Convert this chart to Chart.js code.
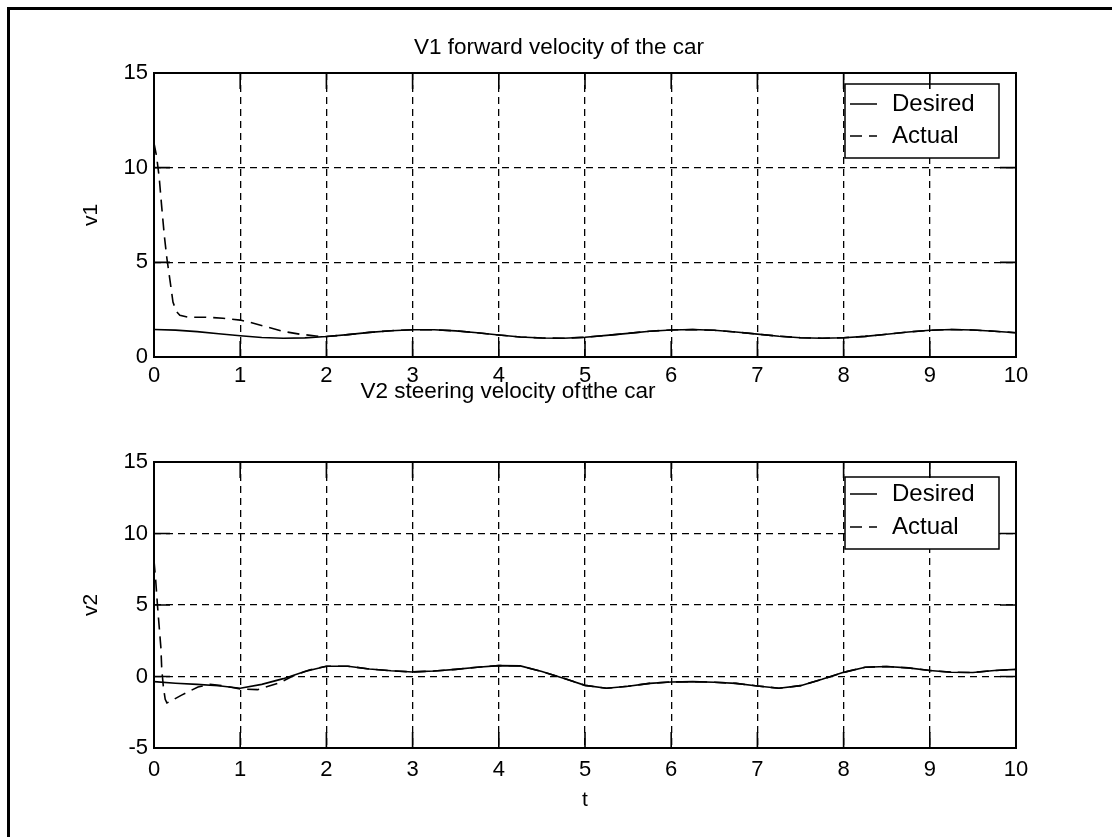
<!DOCTYPE html>
<html>
<head>
<meta charset="utf-8">
<script src="https://cdn.jsdelivr.net/npm/chart.js@4.4.0/dist/chart.umd.min.js"></script>
<style>
  html, body { margin: 0; padding: 0; background: #fff; }
  #page { position: relative; width: 1112px; height: 837px; overflow: hidden; background: #fff; }
  #frame { position: absolute; left: 7px; top: 7px; width: 1200px; height: 900px;
           border-top: 3px solid #000; border-left: 3px solid #000; }
  .box { position: absolute; left: 0; width: 1112px; }
  #boxTop { top: 0; height: 420px; }
  #boxBottom { top: 360px; height: 477px; }
</style>
</head>
<body>
<div id="page">
  <div id="frame"></div>
  <div class="box" id="boxTop"><canvas id="chartV1"></canvas></div>
  <div class="box" id="boxBottom"><canvas id="chartV2"></canvas></div>
</div>
<script>
// time grid for the desired trajectories
var tDesired = [0, 0.25, 0.5, 0.75, 1, 1.25, 1.5, 1.75, 2, 2.25, 2.5, 2.75, 3, 3.25, 3.5, 3.75,
  4, 4.25, 4.5, 4.75, 5, 5.25, 5.5, 5.75, 6, 6.25, 6.5, 6.75, 7, 7.25, 7.5, 7.75,
  8, 8.25, 8.5, 8.75, 9, 9.25, 9.5, 9.75, 10];

var v1Desired = [1.45, 1.42, 1.34, 1.23, 1.12, 1.03, 0.99, 1.01, 1.08, 1.18, 1.30, 1.39, 1.44, 1.44, 1.38, 1.28,
  1.16, 1.06, 1.00, 0.99, 1.04, 1.14, 1.25, 1.36, 1.43, 1.45, 1.41, 1.32, 1.21, 1.10, 1.02, 0.99,
  1.02, 1.09, 1.20, 1.32, 1.41, 1.45, 1.43, 1.36, 1.28];

var v2Desired = [-0.36, -0.47, -0.55, -0.65, -0.82, -0.55, -0.15, 0.35, 0.72, 0.72, 0.52, 0.40, 0.32, 0.38, 0.50, 0.65,
  0.76, 0.74, 0.35, -0.12, -0.62, -0.82, -0.68, -0.48, -0.38, -0.36, -0.40, -0.48, -0.66, -0.82, -0.64, -0.20,
  0.29, 0.65, 0.70, 0.60, 0.42, 0.30, 0.28, 0.42, 0.50];

// transient of the actual signals (after t = 2 they sit on the desired curve)
var tActual1Head = [0, 0.03, 0.06, 0.09, 0.12, 0.15, 0.19, 0.22, 0.26, 0.3, 0.4, 0.6, 0.8, 1.0, 1.1, 1.3, 1.5, 1.7, 1.9, 2.0];
var v1ActualHead = [11.3, 10.6, 9.5, 7.9, 6.4, 5.2, 3.9, 2.9, 2.4, 2.2, 2.1, 2.1, 2.05, 1.95, 1.85, 1.6, 1.35, 1.2, 1.1, 1.08];

var tActual2Head = [0, 0.02, 0.04, 0.06, 0.08, 0.09, 0.11, 0.13, 0.15, 0.2, 0.32, 0.51, 0.65, 0.8, 1.0, 1.2, 1.45, 1.6, 1.8, 2.0];
var v2ActualHead = [8.1, 6.7, 5.0, 3.5, 2.0, 0.5, -0.8, -1.6, -1.85, -1.7, -1.3, -0.73, -0.55, -0.65, -0.88, -0.92, -0.46, 0.0, 0.45, 0.72];

var xTicks = [0, 1, 2, 3, 4, 5, 6, 7, 8, 9, 10];
var legendLabels = ['Desired', 'Actual'];

function pts(ts, vs) {
  return ts.map(function(t, i) { return { x: t, y: vs[i] }; });
}

var TICK = 16;
var FONT = "'Liberation Sans', Arial, sans-serif";

// MATLAB-like axes box, inward ticks and boxed legend
var matlabAxes = {
  id: 'matlabAxes',
  afterDraw: function(chart, args, o) {
    var ctx = chart.ctx, a = chart.chartArea;
    var xs = chart.scales.x, ys = chart.scales.y;
    ctx.save();
    ctx.strokeStyle = '#000';
    ctx.setLineDash([]);

    // legend
    var lx = a.right - o.right - o.width, ly = a.top + o.top;
    ctx.fillStyle = '#fff';
    ctx.fillRect(lx, ly, o.width, o.height);
    ctx.lineWidth = 1.5;
    ctx.strokeRect(lx, ly, o.width, o.height);
    ctx.font = o.fontSize + 'px ' + FONT;
    ctx.textBaseline = 'middle';
    ctx.fillStyle = '#000';
    chart.data.datasets.forEach(function(ds, i) {
      var yy = ly + o.rows[i];
      ctx.lineWidth = 1.5;
      ctx.setLineDash(ds.borderDash || []);
      ctx.beginPath();
      ctx.moveTo(lx + 5, yy);
      ctx.lineTo(lx + 32, yy);
      ctx.stroke();
      ctx.setLineDash([]);
      ctx.fillText(ds.label, lx + 47, yy);
    });

    // box
    ctx.lineWidth = 2;
    ctx.strokeRect(a.left, a.top, a.right - a.left, a.bottom - a.top);

    // inward ticks
    ctx.lineWidth = 1.6;
    ctx.beginPath();
    xs.ticks.forEach(function(t) {
      var px = xs.getPixelForValue(t.value);
      ctx.moveTo(px, a.bottom); ctx.lineTo(px, a.bottom - TICK);
      ctx.moveTo(px, a.top); ctx.lineTo(px, a.top + TICK);
    });
    ys.ticks.forEach(function(t) {
      var py = ys.getPixelForValue(t.value);
      ctx.moveTo(a.left, py); ctx.lineTo(a.left + TICK, py);
      ctx.moveTo(a.right, py); ctx.lineTo(a.right - TICK, py);
    });
    ctx.stroke();
    ctx.restore();
  }
};

function makeChart(id, cfg) {
  return new Chart(document.getElementById(id), {
    type: 'line',
    data: {
      datasets: [
        { label: legendLabels[0], data: cfg.desired, borderColor: '#000', borderWidth: 1.6,
          pointRadius: 0, tension: 0, fill: false },
        { label: legendLabels[1], data: cfg.actual, borderColor: '#000', borderWidth: 1.6,
          borderDash: [12, 7], pointRadius: 0, tension: 0, fill: false }
      ]
    },
    options: {
      responsive: true,
      maintainAspectRatio: false,
      animation: false,
      events: [],
      layout: { padding: { left: cfg.padLeft, right: 96, top: 0, bottom: 0 } },
      plugins: {
        legend: { display: false },
        tooltip: { enabled: false },
        title: {
          display: true,
          text: cfg.title,
          color: '#000',
          font: { family: FONT, size: 22.5, weight: 'normal' },
          padding: { top: cfg.titleTop, bottom: cfg.titleBottom }
        },
        matlabAxes: cfg.legend
      },
      scales: {
        x: {
          type: 'linear',
          min: 0, max: 10,
          afterBuildTicks: function(s) { s.ticks = xTicks.map(function(v) { return { value: v }; }); },
          afterFit: function(s) { s.height = cfg.xAxisHeight; },
          grid: { color: '#000', lineWidth: 1.3, drawTicks: false },
          border: { display: false, dash: [7, 5] },
          ticks: { color: '#000', padding: cfg.xPad, maxRotation: 0, autoSkip: false,
                   font: { family: FONT, size: 22 } },
          title: { display: true, text: 't', color: '#000', font: { family: FONT, size: 21 },
                   padding: { top: 0, bottom: cfg.tBottom } }
        },
        y: {
          min: cfg.yMin, max: 15,
          ticks: { stepSize: 5, color: '#000', padding: 6, font: { family: FONT, size: 22 } },
          afterFit: function(s) { s.width = 154 - cfg.padLeft; },
          grid: { color: '#000', lineWidth: 1.3, drawTicks: false },
          border: { display: false, dash: [7, 5] },
          title: { display: true, text: cfg.yTitle, color: '#000', font: { family: FONT, size: 21 },
                   padding: { top: 79 - cfg.padLeft, bottom: 0 } }
        }
      }
    },
    plugins: [matlabAxes]
  });
}

makeChart('chartV1', {
  title: 'V1 forward velocity of the car',
  titleTop: 34.5, titleBottom: 11.5, padLeft: 102,
  desired: pts(tDesired, v1Desired),
  actual: pts(tActual1Head.concat(tDesired.slice(9)), v1ActualHead.concat(v1Desired.slice(9))),
  yMin: 0, yTitle: 'v1',
  xAxisHeight: 63, xPad: 6, tBottom: 14,
  legend: { right: 17, top: 11, width: 154, height: 74, rows: [20, 52], fontSize: 24 }
});

makeChart('chartV2', {
  title: 'V2 steering velocity of the car',
  titleTop: 18.5, titleBottom: 56.5, padLeft: 0,
  desired: pts(tDesired, v2Desired),
  actual: pts(tActual2Head.concat(tDesired.slice(9)), v2ActualHead.concat(v2Desired.slice(9))),
  yMin: -5, yTitle: 'v2',
  xAxisHeight: 89, xPad: 9, tBottom: 24,
  legend: { right: 17, top: 15, width: 154, height: 72, rows: [17, 50], fontSize: 24 }
});
</script>
</body>
</html>
